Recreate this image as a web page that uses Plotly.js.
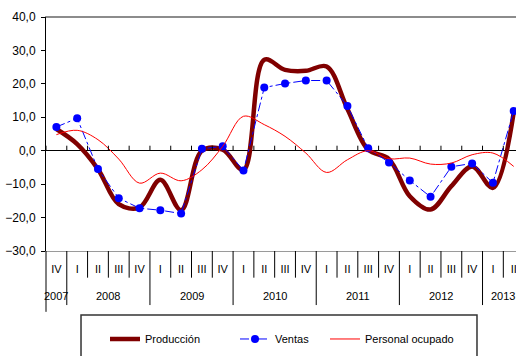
<!DOCTYPE html>
<html><head><meta charset="utf-8">
<script src="https://cdn.plot.ly/plotly-3.0.1.min.js"></script>
<style>html,body{margin:0;padding:0;background:#fff}#chart{width:516px;height:356px}</style>
</head><body><div id="chart"></div>
<script>
var quarters = ['IV','I','II','III','IV','I','II','III','IV','I','II','III','IV','I','II','III','IV','I','II','III','IV','I','II'];
var years = [2007,2008,2008,2008,2008,2009,2009,2009,2009,2010,2010,2010,2010,2011,2011,2011,2011,2012,2012,2012,2012,2013,2013];
var produccion = [6.5,2.0,-5.5,-16.0,-17.0,-8.7,-17.8,0.0,0.3,-5.8,27.2,24.2,23.9,25.2,12.5,0.3,-2.5,-13.6,-17.6,-10.6,-4.7,-11.1,11.5];
var ventas = [7.1,9.7,-5.5,-14.2,-17.2,-17.8,-18.8,0.6,1.3,-5.9,18.9,20.1,21.0,21.0,13.4,0.7,-3.5,-8.9,-13.8,-4.8,-3.8,-9.6,11.9];
var personal = [4.8,6.1,3.3,-2.5,-9.7,-6.7,-9.0,-5.7,1.3,10.3,7.8,4.3,-0.7,-6.5,-2.7,0.0,-2.4,-2.2,-4.0,-3.7,-1.2,-0.7,-4.7];
var yTicks = [-30,-20,-10,0,10,20,30,40];

var cats = quarters.map(function(q,i){return years[i]+'-'+q;});
var FONT = 'Liberation Sans, Arial, sans-serif';

var traces = [
  {x: cats, y: produccion, name: 'Producción', type: 'scatter', mode: 'lines',
   line: {color: '#800000', width: 4.5, shape: 'spline', smoothing: 1}, legend: 'legend'},
  {x: cats, y: ventas, name: 'Ventas', type: 'scatter', mode: 'lines+markers',
   line: {color: '#0000ff', width: 1, dash: 'dashdot'}, marker: {color: '#0000ff', size: 8}, legend: 'legend2'},
  {x: cats, y: personal, name: 'Personal ocupado', type: 'scatter', mode: 'lines',
   line: {color: '#ff0000', width: 1, shape: 'spline', smoothing: 1}, legend: 'legend3'}
];

var shapes = [];
// top border of plot area
shapes.push({type: 'line', xref: 'paper', yref: 'paper', x0: 0, x1: 1, y0: 1, y1: 1, line: {color: '#8c8c8c', width: 2}});
// quarter separators below the plot
for (var i = 1; i < cats.length; i++) {
  var yearChange = years[i] !== years[i-1];
  shapes.push({type: 'line', xref: 'x', yref: 'paper', x0: i-0.5, x1: i-0.5,
    y0: 0, y1: yearChange ? -0.231 : -0.114, line: {color: '#000', width: 1}});
}
// ticks on zero line
for (var j = 0; j <= cats.length; j++) {
  shapes.push({type: 'line', xref: 'x', yref: 'y', ysizemode: 'pixel', yanchor: 0,
    x0: j-0.5, x1: j-0.5, y0: 0, y1: 5, line: {color: '#000', width: 1}});
}
// y-axis extension below the plot
shapes.push({type: 'line', xref: 'paper', yref: 'paper', x0: 0, x1: 0, y0: 0, y1: -0.26, line: {color: '#000', width: 1}});
// legend box
shapes.push({type: 'rect', xref: 'paper', yref: 'paper', x0: 0.0745, x1: 0.917, y0: -0.2735, y1: -0.65,
  line: {color: '#333', width: 1.5}, fillcolor: 'rgba(0,0,0,0)'});

// year labels
var annotations = [];
var yrs = [];
years.forEach(function(y){ if (yrs.indexOf(y) < 0) yrs.push(y); });
yrs.forEach(function(y){
  var idx = [];
  years.forEach(function(v,k){ if (v === y) idx.push(k); });
  var c = (idx[0] + idx[idx.length-1]) / 2;
  annotations.push({x: c, y: -0.192, xref: 'x', yref: 'paper', text: String(y), showarrow: false,
    font: {family: FONT, size: 11, color: '#000'}, xanchor: 'center', yanchor: 'middle'});
});

var legendBase = {orientation: 'h', xanchor: 'left', yanchor: 'middle', y: -0.376,
  bgcolor: 'rgba(0,0,0,0)', borderwidth: 0, font: {family: FONT, size: 11, color: '#000'}};
function leg(x){ var o = JSON.parse(JSON.stringify(legendBase)); o.x = x; return o; }

var layout = {
  width: 516, height: 356,
  margin: {l: 46, r: 0, t: 17, b: 105, pad: 0},
  paper_bgcolor: '#fff', plot_bgcolor: '#fff',
  separators: ',.',
  font: {family: FONT, size: 11, color: '#000'},
  showlegend: true,
  legend: leg((105-46)/470),
  legend2: leg((235-46)/470),
  legend3: leg((325-46)/470),
  xaxis: {type: 'category', range: [-0.5, 22.11], showgrid: false, zeroline: false,
    showline: true, linecolor: '#9a9a9a', linewidth: 1, mirror: true,
    ticks: '', tickvals: cats, ticktext: quarters, ticklabelstandoff: 8,
    tickfont: {family: FONT, size: 11, color: '#000'}, fixedrange: true},
  yaxis: {range: [-30, 40], tickvals: yTicks, tickformat: '.1f', showgrid: false,
    zeroline: true, zerolinecolor: '#000', zerolinewidth: 1,
    showline: true, linecolor: '#000', linewidth: 1, ticks: 'outside', ticklen: 4, tickcolor: '#000',
    ticklabelstandoff: 3,
    tickfont: {family: FONT, size: 12, color: '#000'}, fixedrange: true},
  shapes: shapes,
  annotations: annotations
};

Plotly.newPlot('chart', traces, layout, {displayModeBar: false, staticPlot: true});
</script>
</body></html>
